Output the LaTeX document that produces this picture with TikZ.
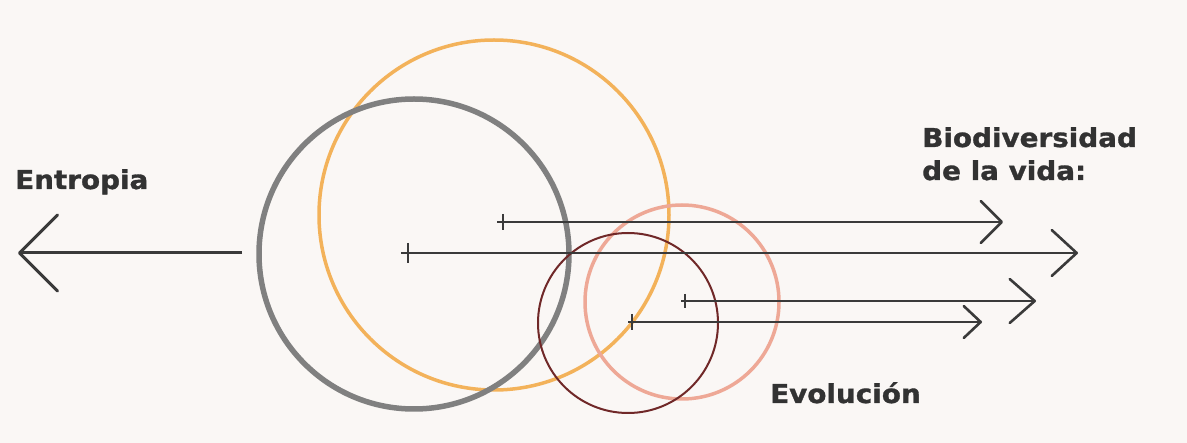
\documentclass[tikz,border=0pt]{standalone}
\usepackage{fontspec}
\setmainfont[FakeStretch=1.07, BoldFeatures={FakeBold=1.2}]{DejaVu Sans}
\usetikzlibrary{arrows.meta}
\definecolor{bg}{RGB}{250,247,245}
\definecolor{ink}{RGB}{58,58,58}
\definecolor{txt}{RGB}{50,50,50}
\definecolor{cgray}{RGB}{128,128,128}
\definecolor{corange}{RGB}{243,178,90}
\definecolor{cpink}{RGB}{238,168,150}
\definecolor{cdark}{RGB}{112,40,40}
\tikzset{
  lbl/.style={font=\bfseries\fontsize{26}{33}\selectfont, text=txt, inner sep=0pt, anchor=base west, align=left},
  ring/.style={line width=#1},
  arr/.style={draw=ink, line width=2pt},
  tickmark/.style={draw=ink, line width=2pt},
}
\begin{document}
\begin{tikzpicture}[x=1pt,y=-1pt]
\fill[bg] (0,0) rectangle (1187,443);
\useasboundingbox (0,0) rectangle (1187,443);
% circles
\draw[corange, ring=3.5pt] (494,215) circle[radius=175];
\draw[cgray, ring=5.5pt] (414,254) circle[radius=155];
\draw[cpink, ring=3.5pt] (682,302) circle[radius=97];
\draw[cdark, ring=2pt] (628,323) circle[radius=90];
% left arrow
\coordinate (ls) at (242,253);
\coordinate (le) at (18,253);
\draw[draw=ink, line width=3pt, -{Straight Barb[length=38pt,width=76pt,round]}] (ls) -- (le);
% right arrows
\coordinate (s1) at (497,222); \coordinate (t1) at (503,222); \coordinate (e1) at (1003,222);
\coordinate (s2) at (401,253); \coordinate (t2) at (408,253); \coordinate (e2) at (1078,253);
\coordinate (s3) at (681,301); \coordinate (t3) at (685,301); \coordinate (e3) at (1036,301);
\coordinate (s4) at (628,322); \coordinate (t4) at (632,322); \coordinate (e4) at (982,322);
\draw[arr, -{Straight Barb[length=21pt,width=42pt,line width=2.6pt,round]}] (s1) -- (e1);
\draw[arr, -{Straight Barb[length=25pt,width=46pt,line width=2.6pt,round]}] (s2) -- (e2);
\draw[arr, -{Straight Barb[length=25pt,width=44pt,line width=2.6pt,round]}] (s3) -- (e3);
\draw[arr, -{Straight Barb[length=17pt,width=32pt,line width=2.6pt,round]}] (s4) -- (e4);
\foreach \t/\h in {t1/8,t2/10,t3/7,t4/8}{
  \draw[tickmark] ([yshift=\h pt]\t) -- ([yshift=-\h pt]\t);
}
% labels
\node[lbl] (entropia) at (15,189) {Entropia};
\node[lbl] (bio) at (922,180) {Biodiversidad\\de la vida:};
\node[lbl] (evo) at (770,403) {Evolución};
\end{tikzpicture}
\end{document}
